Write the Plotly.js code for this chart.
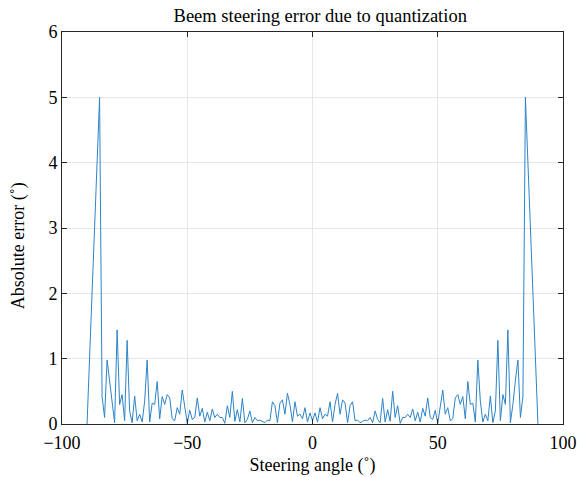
<!DOCTYPE html>
<html>
<head>
<meta charset="utf-8">
<script src="https://cdn.plot.ly/plotly-3.0.1.min.js"></script>
<style>
  html, body { margin: 0; padding: 0; background: #fff; }
  #chart { width: 577px; height: 477px; }
</style>
</head>
<body>
<div id="chart"></div>
<script>
// Steering angles (degrees)
const steeringAngle = [
  -90,
  -85, -84, -83, -82, -81, -80, -79, -78, -77, -76,
  -75, -74, -73, -72, -71, -70, -69, -68, -67, -66,
  -65, -64, -63, -62, -61, -60, -59, -58, -57, -56,
  -55, -54, -53, -52, -51, -50, -49, -48, -47, -46,
  -45, -44, -43, -42, -41, -40, -39, -38, -37, -36,
  -35, -34, -33, -32, -31, -30, -29, -28, -27, -26,
  -25, -24, -23, -22, -21, -20, -19, -18, -17, -16,
  -15, -14, -13, -12, -11, -10, -9, -8, -7, -6,
  -5, -4, -3, -2, -1, 0, 1, 2, 3, 4,
  5, 6, 7, 8, 9, 10, 11, 12, 13, 14,
  15, 16, 17, 18, 19, 20, 21, 22, 23, 24,
  25, 26, 27, 28, 29, 30, 31, 32, 33, 34,
  35, 36, 37, 38, 39, 40, 41, 42, 43, 44,
  45, 46, 47, 48, 49, 50, 51, 52, 53, 54,
  55, 56, 57, 58, 59, 60, 61, 62, 63, 64,
  65, 66, 67, 68, 69, 70, 71, 72, 73, 74,
  75, 76, 77, 78, 79, 80, 81, 82, 83, 84,
  85,
  90
];

// Absolute pointing error after phase quantization (degrees)
const absError = [
  0,
  5.00, 0.42, 0.10, 0.98, 0.67, 0.30, 0.02, 1.44, 0.30, 0.45,
  0.05, 1.28, 0.20, 0.02, 0.43, 0.05, 0.15, 0.03, 0.35, 0.98,
  0.03, 0.32, 0.30, 0.65, 0.08, 0.42, 0.30, 0.45, 0.40, 0.08,
  0.05, 0.25, 0.15, 0.52, 0.26, 0.01, 0.21, 0.07, 0.10, 0.40,
  0.12, 0.24, 0.03, 0.18, 0.05, 0.23, 0.10, 0.15, 0.10, 0.10,
  0.01, 0.28, 0.10, 0.50, 0.04, 0.22, 0.03, 0.39, 0.02, 0.07,
  0.20, 0.02, 0.10, 0.05, 0.06, 0.04, 0.02, 0.06, 0.05, 0.34,
  0.28, 0.02, 0.32, 0.37, 0.15, 0.47, 0.30, 0.03, 0.34, 0.12,
  0.15, 0.08, 0.25, 0.03, 0.17, 0.05, 0.17, 0.03, 0.25, 0.08,
  0.15, 0.12, 0.34, 0.03, 0.30, 0.47, 0.15, 0.37, 0.32, 0.02,
  0.28, 0.34, 0.05, 0.06, 0.02, 0.04, 0.06, 0.05, 0.10, 0.02,
  0.20, 0.07, 0.02, 0.39, 0.03, 0.22, 0.04, 0.50, 0.10, 0.28,
  0.01, 0.10, 0.10, 0.15, 0.10, 0.23, 0.05, 0.18, 0.03, 0.24,
  0.12, 0.40, 0.10, 0.07, 0.21, 0.01, 0.26, 0.52, 0.15, 0.25,
  0.05, 0.08, 0.40, 0.45, 0.30, 0.42, 0.08, 0.65, 0.30, 0.32,
  0.03, 0.98, 0.35, 0.03, 0.15, 0.05, 0.43, 0.02, 0.20, 1.28,
  0.05, 0.45, 0.30, 1.44, 0.02, 0.30, 0.67, 0.98, 0.10, 0.42,
  5.00,
  0
];

const xTicks = [-100, -50, 0, 50, 100];
const yTicks = [0, 1, 2, 3, 4, 5, 6];

const serif = '"Liberation Serif", "Times New Roman", Times, serif';

const trace = {
  x: steeringAngle,
  y: absError,
  type: 'scatter',
  mode: 'lines',
  line: { color: 'rgb(45,132,200)', width: 1 },
  hoverinfo: 'x+y'
};

const axisCommon = {
  showline: true,
  linecolor: '#262626',
  linewidth: 1,
  mirror: 'ticks',
  ticks: 'inside',
  ticklen: 5,
  tickwidth: 1,
  tickcolor: '#262626',
  showgrid: true,
  gridcolor: '#e6e6e6',
  gridwidth: 1,
  zeroline: false,
  tickfont: { family: serif, size: 18, color: '#000' }
};

const layout = {
  width: 577,
  height: 477,
  margin: { l: 62, r: 14, t: 32, b: 53 },
  paper_bgcolor: '#fff',
  plot_bgcolor: '#fff',
  showlegend: false,
  font: { family: serif, color: '#000' },
  title: {
    text: 'Beem steering error due to quantization',
    font: { family: serif, size: 18.5, color: '#000' },
    x: 0.555, xanchor: 'center',
    y: 0.968, yanchor: 'middle'
  },
  xaxis: Object.assign({}, axisCommon, {
    range: [-100, 100],
    tickmode: 'array',
    tickvals: xTicks,
    ticklabelstandoff: 2,
    title: { text: 'Steering angle (˚)', font: { family: serif, size: 18, color: '#000' }, standoff: 6 }
  }),
  yaxis: Object.assign({}, axisCommon, {
    range: [0, 6],
    tickmode: 'array',
    tickvals: yTicks
  }),
  annotations: [{
    text: 'Absolute error (˚)',
    font: { family: serif, size: 18, color: '#000' },
    textangle: -90,
    xref: 'paper', yref: 'y',
    x: 0, y: 2.72,
    xanchor: 'center', yanchor: 'middle',
    xshift: -44,
    showarrow: false
  }]
};

Plotly.newPlot('chart', [trace], layout, { displayModeBar: false, staticPlot: true });
</script>
</body>
</html>
